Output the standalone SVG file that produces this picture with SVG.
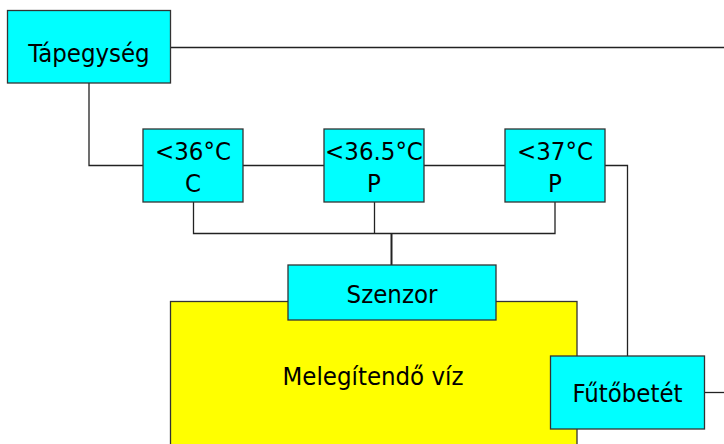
<svg xmlns="http://www.w3.org/2000/svg" width="724" height="444" viewBox="0 0 724 444">
<style>
.box{fill:#00ffff;stroke:#333;stroke-width:1.3}
.water{fill:#ffff00;stroke:#333;stroke-width:1.3}
.t{font-family:"DejaVu Sans Condensed","DejaVu Sans",Verdana,sans-serif;font-stretch:condensed;font-size:25.5px;fill:#000;text-anchor:middle}
.c{fill:none;stroke:#222;stroke-width:1.3}
</style>
<rect width="724" height="444" fill="#fff"/>
<g id="connectors">
<path class="c" d="M170.5 47.5H724"/>
<path class="c" d="M89 83V165.5H143"/>
<path class="c" d="M243 165.5H324"/>
<path class="c" d="M424 165.5H505"/>
<path class="c" d="M605 165.5H627.5V356"/>
<path class="c" d="M193.5 202V233.5H555V202"/>
<path class="c" d="M374.5 202V233.5"/>
<path class="c" d="M391.5 233.5V265" style="stroke-width:2"/>
<path class="c" d="M704.5 392.5H724"/>
</g>
<g id="viz">
<rect class="water" x="170.5" y="301.5" width="406.5" height="150"/>
<text class="t" x="373" y="385">Melegítendő víz</text>
</g>
<g id="tapegyseg">
<rect class="box" x="7.5" y="10.5" width="163" height="72.5"/>
<text class="t" x="89" y="62">Tápegység</text>
</g>
<g id="t36">
<rect class="box" x="143" y="129" width="100" height="73"/>
<text class="t" x="193" y="160">&lt;36°C</text>
<text class="t" x="193" y="192">C</text>
</g>
<g id="t365">
<rect class="box" x="324" y="129" width="100" height="73"/>
<text class="t" x="374" y="160">&lt;36.5°C</text>
<text class="t" x="374" y="192">P</text>
</g>
<g id="t37">
<rect class="box" x="505" y="129" width="100" height="73"/>
<text class="t" x="555" y="160">&lt;37°C</text>
<text class="t" x="555" y="192">P</text>
</g>
<g id="szenzor">
<rect class="box" x="288" y="265" width="208" height="55"/>
<text class="t" x="392" y="303">Szenzor</text>
</g>
<g id="futobetet">
<rect class="box" x="550.5" y="356" width="154" height="73"/>
<text class="t" x="627.5" y="402">Fűtőbetét</text>
</g>
</svg>
